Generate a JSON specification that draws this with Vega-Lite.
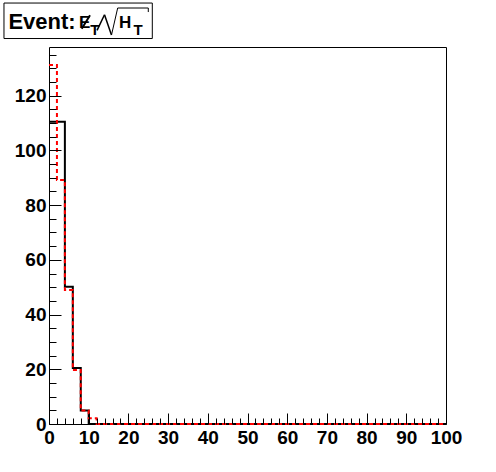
{
  "$schema": "https://vega.github.io/schema/vega-lite/v6.json",
  "autosize": {"type": "none"},
  "width": 397,
  "height": 377,
  "padding": {"left": 49, "top": 47, "right": 50, "bottom": 48},
  "background": "white",
  "config": {
    "view": {"stroke": "black", "strokeWidth": 1},
    "axis": {"grid": false, "domain": false, "title": null, "tickColor": "black", "labelColor": "black", "labelFont": "Liberation Sans", "labelFontWeight": "bold", "labelFontSize": 19, "tickWidth": 1}
  },
  "data": {
    "values": [
      {"x": 0, "black": 110.5, "red": 131.2},
      {"x": 2, "black": 110.5, "red": 89.2},
      {"x": 4, "black": 50.2, "red": 49.0},
      {"x": 6, "black": 20.5, "red": 19.7},
      {"x": 8, "black": 4.9, "red": 4.9},
      {"x": 10, "black": 0, "red": 2.1},
      {"x": 12, "black": 0, "red": 0},
      {"x": 14, "black": 0, "red": 0},
      {"x": 16, "black": 0, "red": 0},
      {"x": 18, "black": 0, "red": 0},
      {"x": 20, "black": 0, "red": 0},
      {"x": 22, "black": 0, "red": 0},
      {"x": 24, "black": 0, "red": 0},
      {"x": 26, "black": 0, "red": 0},
      {"x": 28, "black": 0, "red": 0},
      {"x": 30, "black": 0, "red": 0},
      {"x": 32, "black": 0, "red": 0},
      {"x": 34, "black": 0, "red": 0},
      {"x": 36, "black": 0, "red": 0},
      {"x": 38, "black": 0, "red": 0},
      {"x": 40, "black": 0, "red": 0},
      {"x": 42, "black": 0, "red": 0},
      {"x": 44, "black": 0, "red": 0},
      {"x": 46, "black": 0, "red": 0},
      {"x": 48, "black": 0, "red": 0},
      {"x": 50, "black": 0, "red": 0},
      {"x": 52, "black": 0, "red": 0},
      {"x": 54, "black": 0, "red": 0},
      {"x": 56, "black": 0, "red": 0},
      {"x": 58, "black": 0, "red": 0},
      {"x": 60, "black": 0, "red": 0},
      {"x": 62, "black": 0, "red": 0},
      {"x": 64, "black": 0, "red": 0},
      {"x": 66, "black": 0, "red": 0},
      {"x": 68, "black": 0, "red": 0},
      {"x": 70, "black": 0, "red": 0},
      {"x": 72, "black": 0, "red": 0},
      {"x": 74, "black": 0, "red": 0},
      {"x": 76, "black": 0, "red": 0},
      {"x": 78, "black": 0, "red": 0},
      {"x": 80, "black": 0, "red": 0},
      {"x": 82, "black": 0, "red": 0},
      {"x": 84, "black": 0, "red": 0},
      {"x": 86, "black": 0, "red": 0},
      {"x": 88, "black": 0, "red": 0},
      {"x": 90, "black": 0, "red": 0},
      {"x": 92, "black": 0, "red": 0},
      {"x": 94, "black": 0, "red": 0},
      {"x": 96, "black": 0, "red": 0},
      {"x": 98, "black": 0, "red": 0},
      {"x": 100, "black": 0, "red": 0}
    ]
  },
  "resolve": {"axis": {"x": "independent", "y": "independent"}},
  "layer": [
    {
      "mark": {"type": "line", "interpolate": "step-after", "color": "black", "strokeWidth": 2},
      "encoding": {
        "x": {"field": "x", "type": "quantitative", "scale": {"domain": [0, 100], "nice": false, "zero": false},
              "axis": {"orient": "bottom", "values": [0, 10, 20, 30, 40, 50, 60, 70, 80, 90, 100], "tickSize": -11, "labelPadding": 15, "labelFlush": false, "labelOverlap": false, "zindex": 1}},
        "y": {"field": "black", "type": "quantitative", "scale": {"domain": [0, 137.8], "nice": false, "zero": false},
              "axis": {"orient": "left", "values": [0, 20, 40, 60, 80, 100, 120], "tickSize": -12, "labelPadding": 15, "labelFlush": false, "labelOverlap": false, "zindex": 1}}
      }
    },
    {
      "mark": {"type": "line", "interpolate": "step-after", "color": "#ff0000", "strokeWidth": 2, "strokeDash": [4, 3]},
      "encoding": {
        "x": {"field": "x", "type": "quantitative", "scale": {"domain": [0, 100], "nice": false, "zero": false},
              "axis": {"orient": "bottom", "values": [2, 4, 6, 8, 12, 14, 16, 18, 22, 24, 26, 28, 32, 34, 36, 38, 42, 44, 46, 48, 52, 54, 56, 58, 62, 64, 66, 68, 72, 74, 76, 78, 82, 84, 86, 88, 92, 94, 96, 98], "tickSize": -6, "labels": false, "zindex": 1}},
        "y": {"field": "red", "type": "quantitative", "scale": {"domain": [0, 137.8], "nice": false, "zero": false},
              "axis": {"orient": "left", "values": [5, 10, 15, 25, 30, 35, 45, 50, 55, 65, 70, 75, 85, 90, 95, 105, 110, 115, 125, 130, 135], "tickSize": -7, "labels": false, "zindex": 1}}
      }
    },
    {
      "data": {"values": [{}]},
      "mark": {"type": "rect", "fill": "white", "stroke": "black", "strokeWidth": 1, "clip": false},
      "encoding": {
        "x": {"datum": -11.34, "type": "quantitative", "axis": null, "scale": {"domain": [0, 100], "nice": false, "zero": false}},
        "x2": {"datum": 26.02},
        "y": {"datum": 153.87, "type": "quantitative", "axis": null, "scale": {"domain": [0, 137.8], "nice": false, "zero": false}},
        "y2": {"datum": 140.9}
      }
    },
    {
      "data": {"values": [{}]},
      "mark": {"type": "text", "text": "Event:", "align": "left", "baseline": "alphabetic", "font": "Liberation Sans", "fontWeight": "bold", "fontSize": 22, "color": "black"},
      "encoding": {
        "x": {"datum": -10.23, "type": "quantitative", "axis": null, "scale": {"domain": [0, 100], "nice": false, "zero": false}},
        "y": {"datum": 144.37, "type": "quantitative", "axis": null, "scale": {"domain": [0, 137.8], "nice": false, "zero": false}}
      }
    },
    {
      "data": {"values": [{}]},
      "mark": {"type": "text", "text": "E", "align": "left", "baseline": "alphabetic", "font": "Liberation Sans", "fontWeight": "bold", "fontSize": 17, "color": "black"},
      "encoding": {
        "x": {"datum": 7.56, "type": "quantitative", "axis": null, "scale": {"domain": [0, 100], "nice": false, "zero": false}},
        "y": {"datum": 144.74, "type": "quantitative", "axis": null, "scale": {"domain": [0, 137.8], "nice": false, "zero": false}}
      }
    },
    {
      "data": {"values": [{}]},
      "mark": {"type": "text", "text": "T", "align": "left", "baseline": "alphabetic", "font": "Liberation Sans", "fontWeight": "bold", "fontSize": 15, "color": "black"},
      "encoding": {
        "x": {"datum": 10.39, "type": "quantitative", "axis": null, "scale": {"domain": [0, 100], "nice": false, "zero": false}},
        "y": {"datum": 142.07, "type": "quantitative", "axis": null, "scale": {"domain": [0, 137.8], "nice": false, "zero": false}}
      }
    },
    {
      "data": {"values": [{}]},
      "mark": {"type": "text", "text": "H", "align": "left", "baseline": "alphabetic", "font": "Liberation Sans", "fontWeight": "bold", "fontSize": 17, "color": "black"},
      "encoding": {
        "x": {"datum": 17.63, "type": "quantitative", "axis": null, "scale": {"domain": [0, 100], "nice": false, "zero": false}},
        "y": {"datum": 144.74, "type": "quantitative", "axis": null, "scale": {"domain": [0, 137.8], "nice": false, "zero": false}}
      }
    },
    {
      "data": {"values": [{}]},
      "mark": {"type": "text", "text": "T", "align": "left", "baseline": "alphabetic", "font": "Liberation Sans", "fontWeight": "bold", "fontSize": 15, "color": "black"},
      "encoding": {
        "x": {"datum": 21.3, "type": "quantitative", "axis": null, "scale": {"domain": [0, 100], "nice": false, "zero": false}},
        "y": {"datum": 142.07, "type": "quantitative", "axis": null, "scale": {"domain": [0, 137.8], "nice": false, "zero": false}}
      }
    },
    {
      "data": {"values": [{}]},
      "mark": {"type": "rule", "color": "black", "strokeWidth": 2, "clip": false},
      "encoding": {
        "x": {"datum": 8.24, "type": "quantitative", "axis": null, "scale": {"domain": [0, 100], "nice": false, "zero": false}},
        "x2": {"datum": 10.33},
        "y": {"datum": 144.48, "type": "quantitative", "axis": null, "scale": {"domain": [0, 137.8], "nice": false, "zero": false}},
        "y2": {"datum": 149.38}
      }
    },
    {
      "data": {"values": [{}]},
      "mark": {"type": "rule", "color": "black", "strokeWidth": 1.5, "clip": false},
      "encoding": {
        "x": {"datum": 12.1, "type": "quantitative", "axis": null, "scale": {"domain": [0, 100], "nice": false, "zero": false}},
        "x2": {"datum": 13.98},
        "y": {"datum": 143.9, "type": "quantitative", "axis": null, "scale": {"domain": [0, 137.8], "nice": false, "zero": false}},
        "y2": {"datum": 149.6}
      }
    },
    {
      "data": {"values": [{}]},
      "mark": {"type": "rule", "color": "black", "strokeWidth": 1.5, "clip": false},
      "encoding": {
        "x": {"datum": 13.98, "type": "quantitative", "axis": null, "scale": {"domain": [0, 100], "nice": false, "zero": false}},
        "x2": {"datum": 15.74},
        "y": {"datum": 149.6, "type": "quantitative", "axis": null, "scale": {"domain": [0, 137.8], "nice": false, "zero": false}},
        "y2": {"datum": 142.18}
      }
    },
    {
      "data": {"values": [{}]},
      "mark": {"type": "rule", "color": "black", "strokeWidth": 1, "clip": false},
      "encoding": {
        "x": {"datum": 15.74, "type": "quantitative", "axis": null, "scale": {"domain": [0, 100], "nice": false, "zero": false}},
        "x2": {"datum": 17.3},
        "y": {"datum": 142.18, "type": "quantitative", "axis": null, "scale": {"domain": [0, 137.8], "nice": false, "zero": false}},
        "y2": {"datum": 152.05}
      }
    },
    {
      "data": {"values": [{}]},
      "mark": {"type": "rule", "color": "black", "strokeWidth": 1, "clip": false},
      "encoding": {
        "x": {"datum": 17.3, "type": "quantitative", "axis": null, "scale": {"domain": [0, 100], "nice": false, "zero": false}},
        "x2": {"datum": 25.01},
        "y": {"datum": 152.05, "type": "quantitative", "axis": null, "scale": {"domain": [0, 137.8], "nice": false, "zero": false}},
        "y2": {"datum": 152.05}
      }
    },
    {
      "data": {"values": [{}]},
      "mark": {"type": "rule", "color": "black", "strokeWidth": 1, "clip": false},
      "encoding": {
        "x": {"datum": 25.01, "type": "quantitative", "axis": null, "scale": {"domain": [0, 100], "nice": false, "zero": false}},
        "x2": {"datum": 25.01},
        "y": {"datum": 152.05, "type": "quantitative", "axis": null, "scale": {"domain": [0, 137.8], "nice": false, "zero": false}},
        "y2": {"datum": 150.58}
      }
    }
  ]
}
